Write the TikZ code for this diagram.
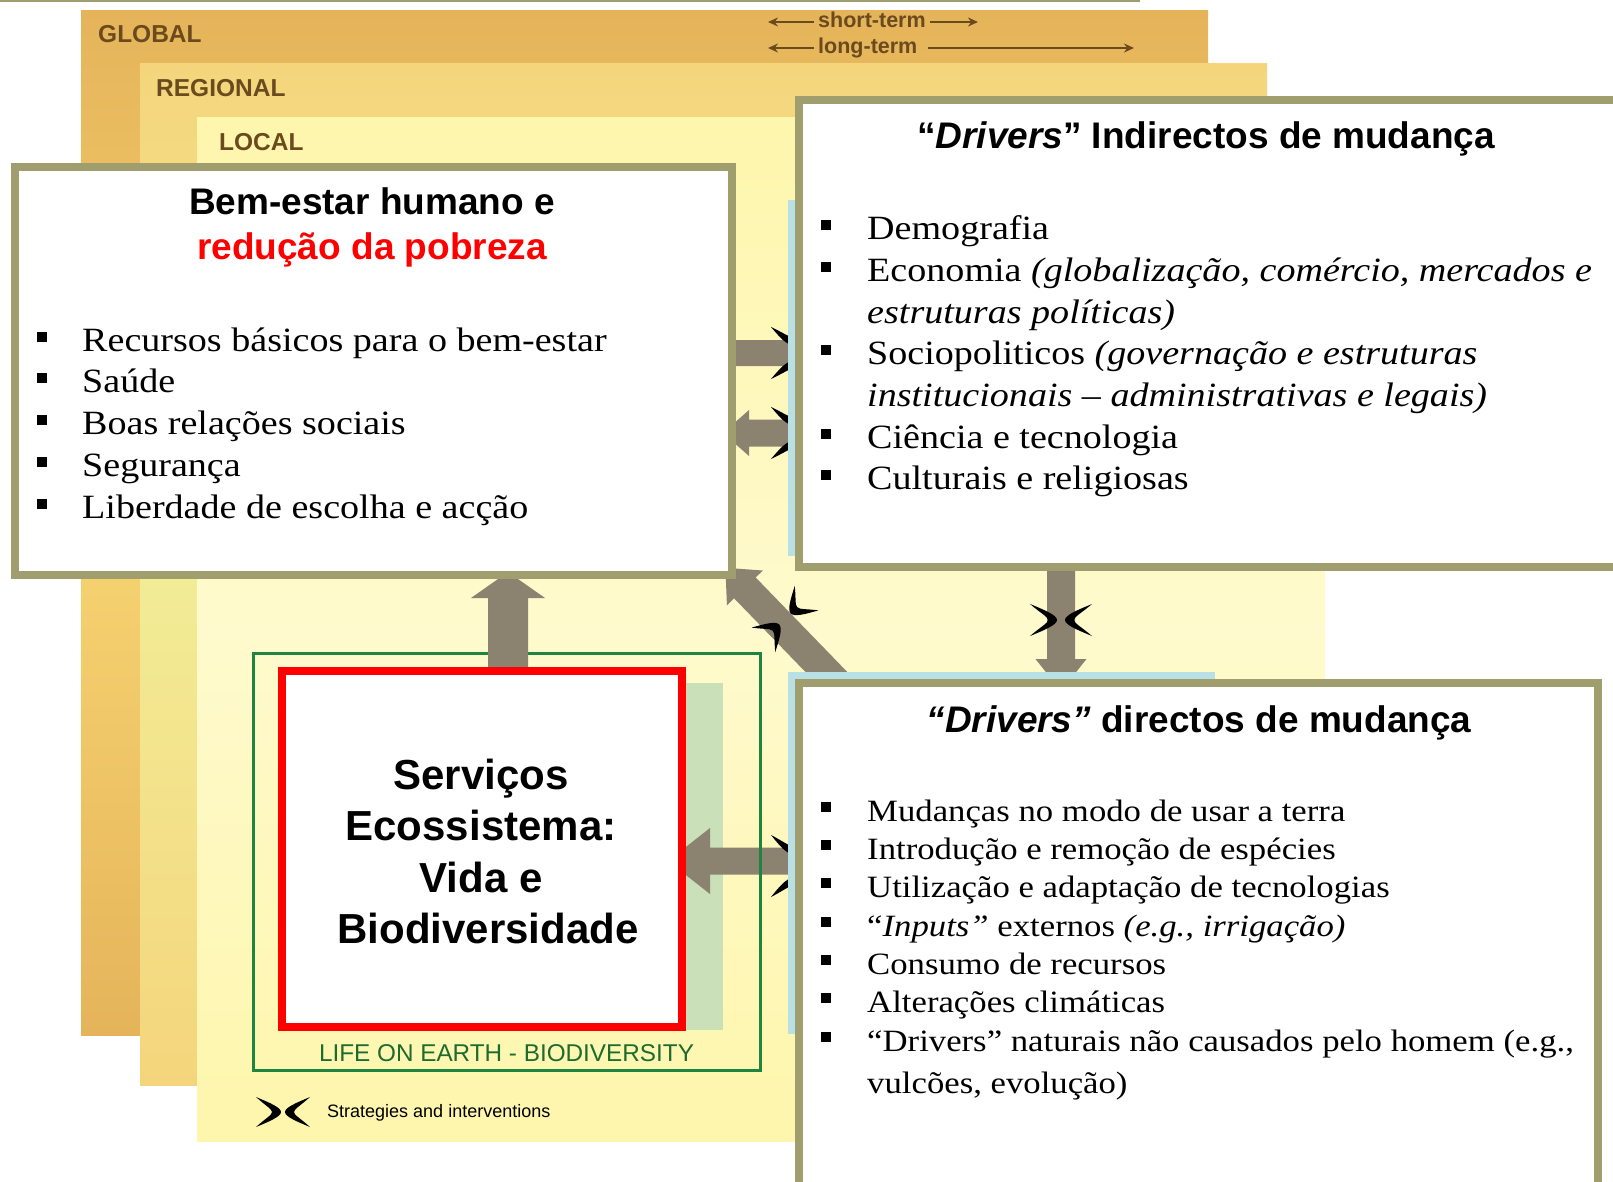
\documentclass[tikz,border=0pt]{standalone}
\usepackage{fontspec}
\setmainfont{Liberation Serif}[FakeStretch=1.12]
\newfontfamily\hv{Liberation Sans}
\usetikzlibrary{calc,arrows.meta}
\definecolor{olivebd}{HTML}{A09E6E}
\definecolor{globA}{HTML}{E5B45A}
\definecolor{globB}{HTML}{F7D472}
\definecolor{regA}{HTML}{F4D57C}
\definecolor{regB}{HTML}{F2EC96}
\definecolor{locA}{HTML}{FEF6AC}
\definecolor{locB}{HTML}{FEFACD}
\definecolor{lblue}{HTML}{B9E1E5}
\definecolor{lgreen}{HTML}{C9E0B9}
\definecolor{grn}{HTML}{1F8440}
\definecolor{grntxt}{HTML}{1E6B30}
\definecolor{arrowc}{HTML}{8B8270}
\definecolor{brn}{HTML}{6B4A1E}
\newcommand\bodyL{\fontsize{34}{40}\selectfont}
\newcommand\bodyS{\fontsize{31}{37}\selectfont}
\newcommand\ttl{\hv\bfseries\fontsize{37}{44}\selectfont}
% block arrow: tail, tip, shaft half width, head half width, head length
\newcommand\barrow[5]{%
  \coordinate (ba-h) at ($(#2)!#5pt!(#1)$);
  \fill[arrowc] ($(#1)!#3pt!90:(#2)$) -- ($(ba-h)!#3pt!90:(#2)$) -- ($(ba-h)!#4pt!90:(#2)$) -- (#2)
    -- ($(ba-h)!#4pt!-90:(#2)$) -- ($(ba-h)!#3pt!-90:(#2)$) -- ($(#1)!#3pt!-90:(#2)$) -- cycle;}
% strategy mark: options, position, L, S, g, t
\newcommand\stratmark[6]{%
  \begin{scope}[shift={#2},#1]
   \foreach \sx in {1,-1}{
    \fill[black,xscale=\sx] (-#3,-#4) .. controls ({-(#5+0.45*(#3-#5))},{-0.62*#4}) and ({-#5},{-0.3*#4}) .. ({-#5},0)
      .. controls ({-#5},{0.3*#4}) and ({-(#5+0.45*(#3-#5))},{0.62*#4}) .. (-#3,#4)
      .. controls ({-(#5+#6+0.4*(#3-#5-#6))},{0.42*#4}) and ({-(#5+#6)},{0.2*#4}) .. ({-(#5+#6)},0)
      .. controls ({-(#5+#6)},{-0.2*#4}) and ({-(#5+#6+0.4*(#3-#5-#6))},{-0.42*#4}) .. cycle;}
  \end{scope}}
\tikzset{
  boxline/.style={draw=olivebd, line width=8pt, fill=white, inner sep=0pt},
  bul/.style={fill=black, minimum size=10pt, inner sep=0pt},
  lab/.style={font=\hv\bfseries\fontsize{24.5}{28}\selectfont, text=brn, inner sep=0pt, anchor=base west},
  term/.style={font=\hv\bfseries\fontsize{21.5}{25}\selectfont, text=brn, inner sep=0pt, anchor=west, text height=16pt, text depth=5pt},
  tarr/.style={draw=brn, line width=2pt, -{Stealth[length=10pt,width=9pt]}},
  txt/.style={inner sep=0pt, anchor=base west},
  ctr/.style={inner sep=0pt, anchor=base},
}
\begin{document}
\begin{tikzpicture}[x=1pt,y=-1pt]
\useasboundingbox (0,0) rectangle (1613,1181);
\clip (0,0) rectangle (1613,1181);
\fill[white] (0,0) rectangle (1613,1181);
\fill[olivebd] (0,0) rectangle (1140,2);
% scale layers
\shade[top color=globA, bottom color=globA, middle color=globB] (81,10) rectangle (1208,1035);
\shade[top color=regA, bottom color=regA, middle color=regB] (140,63) rectangle (1267,1085);
\shade[top color=locA, bottom color=locA, middle color=locB] (197,117) rectangle (1325,1141);
\node[lab] (glob) at (98,42) {GLOBAL};
\node[lab] (regl) at (156,96) {REGIONAL};
\node[lab] (locl) at (219,150) {LOCAL};
% time scale
\node[term] (st) at (818,22) {short-term};
\node[term] (lt) at (818,48) {long-term};
\coordinate (stL) at (768,22);
\coordinate (stR) at (978,22);
\coordinate (ltL) at (768,48);
\coordinate (ltR) at (1134,48);
\draw[tarr] ([xshift=-4pt]st.west) -- (stL);
\draw[tarr] ([xshift=4pt]st.east) -- (stR);
\draw[tarr] ([xshift=-4pt]lt.west) -- (ltL);
\draw[tarr] ([xshift=10pt]lt.east) -- (ltR);
% biodiversity area
\fill[lgreen] (600,683) rectangle (723,1030);
\coordinate (a5t) at (800,861);
\coordinate (a5h) at (668,861);
\barrow{a5t}{a5h}{13.5}{33}{42}
\node[draw=grn, line width=3pt, minimum width=506.5pt, minimum height=416.5pt, inner sep=0pt] (life) at (506.75,861.75) {};
\coordinate (a1t) at (508,667);
\coordinate (a1h) at (508,572);
\barrow{a1t}{a1h}{20}{37}{26}
\node[draw=red, line width=8pt, fill=white, minimum width=400pt, minimum height=356pt, inner sep=0pt] (eco) at (482,849) {};
\node[ctr] (lifet) at (506.5,1061) {\hv\fontsize{24.3}{28}\selectfont\color{grntxt}LIFE ON EARTH - BIODIVERSITY};
% other arrows
\coordinate (a2t) at (839,685);
\coordinate (a2h) at (725.4,567.8);
\barrow{a2t}{a2h}{15}{25}{28}
\coordinate (a3t) at (1061,565);
\coordinate (a3h) at (1061,691);
\barrow{a3t}{a3h}{14}{25.5}{32}
\coordinate (a4t) at (734,353);
\coordinate (a4h) at (830,353);
\barrow{a4t}{a4h}{13}{23}{26}
\coordinate (a6t) at (810,433);
\coordinate (a6h) at (723,433);
\barrow{a6t}{a6h}{13.5}{23}{26}
% strategy marks
\stratmark{}{(283,1112)}{27}{15}{2}{9}
\stratmark{rotate=90}{(793,353)}{26}{22}{8}{8}
\stratmark{rotate=90}{(793,433)}{26}{22}{8}{8}
\stratmark{rotate=90}{(793,866)}{31}{22}{12}{8}
\stratmark{}{(1061,620)}{31}{16}{4}{9}
\stratmark{rotate=44}{(785,619)}{30}{17}{8}{9}
\node[txt] (strat) at (327,1117) {\hv\fontsize{18}{21}\selectfont Strategies and interventions};
% light blue remnants
\fill[lblue] (788,200) rectangle (1000,556);
\fill[lblue] (788,672) rectangle (1215,1034);
% main boxes
\node[boxline, minimum width=717pt, minimum height=408pt] (wb) at (373.5,371) {};
\node[boxline, minimum width=821pt, minimum height=467pt] (ind) at (1209.5,333.5) {};
\node[boxline, minimum width=799pt, minimum height=507pt] (dir) at (1198.5,936.5) {};
% left box text
\node[ctr] (wbt1) at (372,214) {\ttl Bem-estar humano e};
\node[ctr] (wbt2) at (372,259) {\ttl\color{red}redução da pobreza};
\node[bul] (lb1) at (42,337) {};
\node[bul] (lb2) at (42,378) {};
\node[bul] (lb3) at (42,420) {};
\node[bul] (lb4) at (42,462) {};
\node[bul] (lb5) at (42,504) {};
\node[txt] (l1) at (82,351) {\bodyL Recursos básicos para o bem-estar};
\node[txt] (l2) at (82,392) {\bodyL Saúde};
\node[txt] (l3) at (82,434) {\bodyL Boas relações sociais};
\node[txt] (l4) at (82,476) {\bodyL Segurança};
\node[txt] (l5) at (82,518) {\bodyL Liberdade de escolha e acção};
% top right text
\node[ctr] (indt) at (1206,148) {\ttl “\textit{Drivers}” Indirectos de mudança};
\node[bul] (rb1) at (826,225) {};
\node[bul] (rb2) at (826,267) {};
\node[bul] (rb3) at (826,350) {};
\node[bul] (rb4) at (826,434) {};
\node[bul] (rb5) at (826,475) {};
\node[txt] (r1) at (867,239) {\bodyL Demografia};
\node[txt] (r2) at (867,281) {\bodyL Economia \textit{(globalização, comércio, mercados e}};
\node[txt] (r3) at (867,323) {\bodyL\itshape estruturas políticas)};
\node[txt] (r4) at (867,364) {\bodyL Sociopoliticos \textit{(governação e estruturas}};
\node[txt] (r5) at (867,406) {\bodyL\itshape institucionais – administrativas e legais)};
\node[txt] (r6) at (867,448) {\bodyL Ciência e tecnologia};
\node[txt] (r7) at (867,489) {\bodyL Culturais e religiosas};
% bottom right text
\node[ctr] (dirt) at (1199,732) {\ttl\textit{“Drivers”} directos de mudança};
\node[bul] (db1) at (826,807) {};
\node[bul] (db2) at (826,845) {};
\node[bul] (db3) at (826,883) {};
\node[bul] (db4) at (826,922) {};
\node[bul] (db5) at (826,960) {};
\node[bul] (db6) at (826,998) {};
\node[bul] (db7) at (826,1037) {};
\node[txt] (d1) at (867,821) {\bodyS Mudanças no modo de usar a terra};
\node[txt] (d2) at (867,859) {\bodyS Introdução e remoção de espécies};
\node[txt] (d3) at (867,897) {\bodyS Utilização e adaptação de tecnologias};
\node[txt] (d4) at (867,936) {\bodyS “\textit{Inputs”} externos \textit{(e.g., irrigação)}};
\node[txt] (d5) at (867,974) {\bodyS Consumo de recursos};
\node[txt] (d6) at (867,1012) {\bodyS Alterações climáticas};
\node[txt] (d7) at (867,1051) {\bodyS “Drivers” naturais não causados pelo homem (e.g.,};
\node[txt] (d8) at (867,1093) {\bodyS vulcões, evolução)};
% ecosystem text
\node[ctr] (e1) at (481,789) {\hv\bfseries\fontsize{42}{50}\selectfont Serviços};
\node[ctr] (e2) at (481,840) {\hv\bfseries\fontsize{42}{50}\selectfont Ecossistema:};
\node[ctr] (e3) at (481,892) {\hv\bfseries\fontsize{42}{50}\selectfont Vida e};
\node[ctr] (e4) at (488,943) {\hv\bfseries\fontsize{42}{50}\selectfont Biodiversidade};
\end{tikzpicture}
\end{document}
